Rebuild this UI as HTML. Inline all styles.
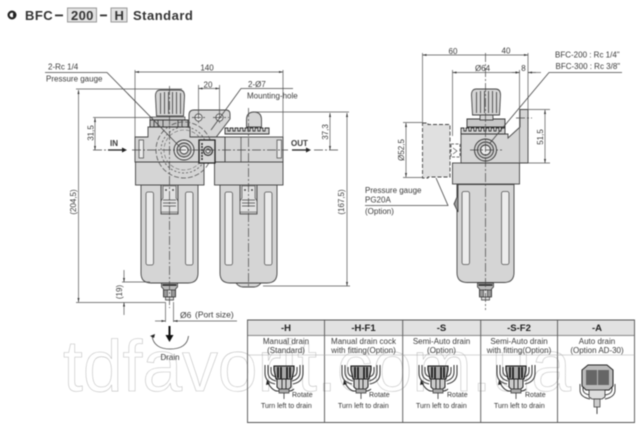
<!DOCTYPE html>
<html><head><meta charset="utf-8"><style>
html,body{margin:0;padding:0;background:#fff}
svg{display:block;filter:blur(.4px)}
text{font-family:"Liberation Sans",sans-serif;fill:#3a3a3a;font-size:8px}
.l{stroke:#444;stroke-width:.8;fill:none}
.d{stroke:#555;stroke-width:.7;fill:none}
.c{stroke:#444;stroke-width:.7;fill:none;stroke-dasharray:9 2 2 2}
.b{fill:#d5d5d5;stroke:#444;stroke-width:.9}
.w{fill:#ececec;stroke:#555;stroke-width:.8}
.h{font-weight:bold;font-size:9.5px;text-anchor:middle;fill:#222}
.m{font-size:8px;text-anchor:middle}
.s{font-size:7px;fill:#333}
</style></head><body>
<svg width="640" height="427" viewBox="0 0 640 427" xmlns="http://www.w3.org/2000/svg">
<defs>
<marker id="a" markerWidth="6" markerHeight="4" refX="6" refY="2" orient="auto-start-reverse"><path d="M0 .5L6 2L0 3.5z" fill="#333"/></marker>
<g id="unitbowl">
<path class="b" d="M0 0H57V88Q57 98 47 98H10Q0 98 0 88Z"/>
<rect class="w" x="5" y="7" width="7.500" height="73" rx="2"/>
<rect class="w" x="44.500" y="7" width="7.500" height="73" rx="2"/>
</g>
<g id="tab">
<path d="M0 0H17V29H0Z" fill="#c8c8c8" stroke="#333" stroke-width=".8"/>
<path d="M2 1H15V13L17 16V27H0V16L2 13Z" fill="#e2e2e2" stroke="#444" stroke-width=".6"/>
<path d="M2 15H15M2 18H15M2 21H15" stroke="#444" stroke-width=".7"/>
<circle cx="5" cy="5" r=".9" fill="#333"/><circle cx="12" cy="5" r=".9" fill="#333"/>
</g>
<g id="knob">
<path class="b" d="M1 26L0 6Q0 0 5 0H24Q29 0 29 6L28 26Z"/>
<path d="M5 3V24M9 2V24M13 2V24M17 2V24M21 2V24M25 3V24" stroke="#555" stroke-width="1"/>
</g>
<g id="teeth">
<path d="M0 7V1H3V4H5V1H8V4H10V1H13V4H15V1H18V4H20V1H23V4H25V1H28V4H30V1H33V4H35V1H38V4H40V1H44V7Z" fill="#d0d0d0" stroke="#333" stroke-width=".9"/>
</g>
<g id="drainport">
<path d="M-8 0H8V4L6 6V13H-6V6L-8 4Z" fill="#bbb" stroke="#444" stroke-width=".9"/>
<path d="M-7 2H7" stroke="#222" stroke-width="1.600"/>
<path d="M-6 7H6V14H-6Z" fill="#999" stroke="#333" stroke-width=".8"/>
<rect x="-2" y="7" width="4" height="7" fill="#ddd" stroke="#333" stroke-width=".6"/>
<path d="M-4 14H4V17H-4Z" fill="#ddd" stroke="#333" stroke-width=".7"/>
</g>
<g id="ico">
<path d="M-19 0V8Q-19 17 -9 19M19 0V8Q19 17 9 19M-16 0V7Q-16 14 -8 16M16 0V7Q16 14 8 16M-13 2V6Q-13 11 -8 12M13 2V6Q13 11 8 12" stroke="#333" stroke-width="1" fill="none"/>
<path d="M-10 1H10V5L8 14H-8L-10 5Z" fill="#aaa" stroke="#111" stroke-width="1.100"/>
<path d="M-6 2V13M-3 2V14M3 2V14M6 2V13" stroke="#111" stroke-width="1.600"/>
<path d="M-7 14H7V22L5 24H-5L-7 22Z" fill="#ccc" stroke="#222" stroke-width="1"/>
<path d="M-2 14V24M2 14V24" stroke="#222" stroke-width=".9"/>
<path d="M-5 24H5V28H-5Z" fill="#aaa" stroke="#333" stroke-width=".7"/>
<path d="M0 28V34" stroke="#333" stroke-width=".8"/>
<path d="M-16 18Q-11 27 -5 26M5 26Q8 26 10 24" stroke="#222" stroke-width=".9" fill="none"/>
<path d="M-17 15L-14 19L-18 20Z" fill="#222"/>
</g>
</defs>

<!-- watermark -->
<text x="63" y="391" textLength="508" lengthAdjust="spacingAndGlyphs" style="font-size:72px;fill:none;stroke:#bdbdbd;stroke-width:.55">tdfavorit.com.ua</text>

<!-- title -->
<circle cx="12" cy="15" r="3.400" fill="none" stroke="#222" stroke-width="2.200"/>
<path d="M13 13L16.500 15L13 17Z" fill="#222"/>
<text x="25" y="20" style="font-size:13px;font-weight:bold;letter-spacing:.45px;fill:#333">BFC</text>
<rect x="55" y="14.500" width="8" height="1.800" fill="#333"/>
<rect x="67.500" y="8" width="29" height="14" fill="#e2e2e2" stroke="#999"/>
<text x="71" y="20" style="font-size:13px;font-weight:bold;letter-spacing:.35px;fill:#333">200</text>
<rect x="100" y="14.500" width="7" height="1.800" fill="#333"/>
<rect x="111" y="8" width="16" height="14" fill="#e2e2e2" stroke="#999"/>
<text x="114.500" y="20" style="font-size:13px;font-weight:bold;fill:#333">H</text>
<text x="133" y="20" style="font-size:13px;font-weight:bold;letter-spacing:.5px;fill:#333">Standard</text>

<!-- left assembly -->
<use href="#unitbowl" x="141" y="185"/>
<use href="#unitbowl" x="220" y="185"/>
<path class="b" d="M236 283H261Q258 287 254 287H243Q239 287 236 283Z"/>
<use href="#tab" x="161" y="185"/>
<use href="#tab" x="240" y="185"/>
<rect class="b" x="135.500" y="162" width="68.500" height="23"/>
<rect class="b" x="214.500" y="162" width="68.500" height="23"/>
<path class="b" d="M189 127V115Q189 110 194 110H226Q230 110 230 114V119L214 140H189Z"/>
<circle cx="198.500" cy="117.500" r="3.600" fill="#eee" stroke="#444" stroke-width=".8"/>
<circle cx="219.500" cy="117.500" r="3.600" fill="#eee" stroke="#444" stroke-width=".8"/>
<path class="b" d="M135 162V137H148V127H190V137H225V162Z"/>
<rect class="b" x="225" y="137" width="58" height="25"/>
<path d="M241 137V162" stroke="#444" stroke-width=".7"/>
<rect x="139" y="140" width="4.500" height="18" class="w"/>
<rect x="277" y="140" width="4.500" height="18" class="w"/>
<use href="#teeth" x="225" y="127"/>
<path class="b" d="M246.500 127V120Q246.500 112 254 112Q261.500 112 261.500 120V127Z"/>
<rect x="150" y="117" width="35" height="3" fill="#ccc" stroke="#444" stroke-width=".7"/>
<path d="M150 120H188V127H150Z" fill="#c0c0c0" stroke="#333" stroke-width=".9"/>
<path d="M154 120V127M158 120V127M163 120V127M178 120V127M182 120V127" stroke="#333" stroke-width=".8"/>
<use href="#knob" x="155.500" y="90"/>
<circle cx="184" cy="150" r="28" fill="none" stroke="#555" stroke-width=".8" stroke-dasharray="5 2"/>
<circle cx="184" cy="150" r="23" fill="none" stroke="#555" stroke-width=".8" stroke-dasharray="2 2"/>
<circle cx="184" cy="150" r="20" fill="none" stroke="#666" stroke-width=".6" stroke-dasharray="4 2"/>
<circle cx="184" cy="150" r="10" fill="#e0e0e0" stroke="#333" stroke-width=".9"/>
<circle cx="184" cy="150" r="7" fill="#c8c8c8" stroke="#333" stroke-width=".9"/>
<circle cx="184" cy="150" r="4" fill="#eee" stroke="#333" stroke-width=".9"/>
<path d="M199 140H215V163H199Z" fill="#d8d8d8" stroke="#222" stroke-width="1.300"/>
<circle cx="208" cy="151" r="4.500" fill="#bbb" stroke="#222" stroke-width="1"/>
<circle cx="208" cy="151" r="2" fill="#eee" stroke="#222" stroke-width=".7"/>
<path d="M202 143V160" stroke="#222" stroke-width="1.400" stroke-dasharray="2 1"/>
<use href="#drainport" x="169.500" y="283"/>

<!-- center lines -->
<path class="c" d="M93 150H107M132 150H288M314 150H340"/>
<path class="c" d="M169.500 86V308"/>
<path class="c" d="M248.500 108V288"/>
<path class="c" d="M198.500 110V125M192 117.500H205M219.500 110V125M213 117.500H229"/>

<!-- left dims -->
<path class="d" d="M135 70V137M283 70V137"/>
<path class="d" d="M135 72H283" marker-start="url(#a)" marker-end="url(#a)"/>
<text class="m" x="207" y="70.500">140</text>
<path class="d" d="M198.500 85V110M219.500 85V110"/>
<path class="d" d="M198.500 88.500H219.500" marker-start="url(#a)" marker-end="url(#a)"/>
<text class="m" x="208" y="87.500">20</text>
<path class="l" d="M45 72.500H107L180 147"/>
<text x="48" y="69.500">2-Rc 1/4</text>
<text x="46" y="81.500">Pressure gauge</text>
<path class="l" d="M293 88.500H241L211 130"/>
<text x="248" y="87">2-Ø7</text>
<text x="247" y="98.500">Mounting-hole</text>
<path class="d" d="M76 89H182M76 302.500H165M93 117.500H153M254 112H349M263 286H350"/>
<path class="d" d="M78.500 90V302" marker-start="url(#a)" marker-end="url(#a)"/>
<text transform="translate(76,202) rotate(-90)" class="m">(204,5)</text>
<path class="d" d="M95 118V150" marker-start="url(#a)" marker-end="url(#a)"/>
<text transform="translate(93.500,133) rotate(-90)" class="m">31,5</text>
<path class="d" d="M330 113V150" marker-start="url(#a)" marker-end="url(#a)"/>
<text transform="translate(328,132) rotate(-90)" class="m">37,3</text>
<path class="d" d="M347 113V286" marker-start="url(#a)" marker-end="url(#a)"/>
<text transform="translate(344,202) rotate(-90)" class="m">(167,5)</text>
<path class="d" d="M122 282H150"/>
<path class="d" d="M124 270V282" marker-end="url(#a)"/>
<path class="d" d="M124 315V302.500" marker-end="url(#a)"/>
<text transform="translate(122,292) rotate(-90)" class="m">(19)</text>
<text x="110" y="146" style="font-weight:bold;font-size:8px">IN</text>
<path d="M108 150H123" stroke="#222" stroke-width="1.300"/><path d="M122 147.500L127 150L122 152.500Z" fill="#222"/>
<text x="291" y="146" style="font-weight:bold;font-size:8px">OUT</text>
<path d="M292 150H307" stroke="#222" stroke-width="1.300"/><path d="M306 147.500L311 150L306 152.500Z" fill="#222"/>
<path class="d" d="M165.500 302V322M173.500 302V322"/>
<path class="d" d="M155 321H165.500" marker-end="url(#a)"/>
<path class="d" d="M237 321H173.500" marker-end="url(#a)"/>
<text x="180" y="318" style="font-size:8.500px">Ø6</text>
<text x="195" y="317.500" style="font-size:8.500px">(Port size)</text>
<path d="M169.500 326V337" stroke="#111" stroke-width="2"/>
<path d="M165.500 335H173.500L169.500 342Z" fill="#111"/>
<path class="l" d="M152 336Q154 349 170 349Q187 349 188.500 336"/>
<path d="M150 336L155 334L154 338Z" fill="#222"/>
<text class="m" x="170" y="360" style="font-size:8px">Drain</text>

<!-- right assembly -->
<use href="#unitbowl" x="457" y="184.500"/>
<path d="M457 184V197L454 204L458 212V184Z" fill="#999" stroke="#333" stroke-width=".8"/>
<rect class="b" x="452.500" y="163" width="67" height="21"/>
<path class="b" d="M461 163V134H508V138L520 127V109.500H528V163Z"/>
<use href="#teeth" x="461" y="127"/>
<path d="M467 119H505V127H467Z" fill="#c8c8c8" stroke="#333" stroke-width=".9"/>
<path class="b" d="M480 120V117Q480 112 486 112Q493 112 493 117V120Z"/>
<use href="#knob" x="471.500" y="89"/>
<circle cx="485.500" cy="150" r="11" fill="#d0d0d0" stroke="#333" stroke-width=".9"/>
<circle cx="485.500" cy="150" r="8" fill="#c8c8c8" stroke="#333" stroke-width=".9"/>
<circle cx="485.500" cy="150" r="5" fill="#eee" stroke="#333" stroke-width=".9"/>
<path d="M422.500 123H428V124.500H450V177H428V178H422.500Z" fill="#e0e0e0" stroke="#444" stroke-width=".9" stroke-dasharray="4 2"/>
<path d="M451 144H460V157H451Z" fill="#fff" stroke="#444" stroke-width=".8" stroke-dasharray="3 1.500"/>
<path d="M453 148L457 151L453 154" stroke="#444" stroke-width=".6" fill="none"/>
<use href="#drainport" x="485.500" y="283"/>
<path class="c" d="M485.500 53V310"/>
<path class="c" d="M470 150H502M516 118H532"/>

<!-- right dims -->
<path class="d" d="M422.500 53V122M528 53V110M452.500 70V136M519.500 70V163"/>
<path class="d" d="M422.500 55H485.500" marker-start="url(#a)"/>
<path class="d" d="M485.500 55H528" marker-end="url(#a)"/>
<text class="m" x="453" y="54">60</text>
<text class="m" x="506" y="53.500">40</text>
<path class="d" d="M452.500 72.500H519.500" marker-start="url(#a)" marker-end="url(#a)"/>
<text class="m" x="482.500" y="71">Ø64</text>
<path class="d" d="M528 72.500H541"/>
<path class="d" d="M512 72.500H519.500" marker-end="url(#a)"/>
<path class="d" d="M536 72.500H528" marker-end="url(#a)"/>
<text class="m" x="523.500" y="71">8</text>
<path class="l" d="M622 72.500H549L490 143"/>
<text x="555" y="57.500">BFC-200 : Rc 1/4"</text>
<text x="555.500" y="69">BFC-300 : Rc 3/8"</text>
<path class="d" d="M528 109.500H550M528 163H550"/>
<path class="d" d="M545 110V163" marker-start="url(#a)" marker-end="url(#a)"/>
<text transform="translate(543,137) rotate(-90)" class="m">51,5</text>
<path class="d" d="M403 122.500H423M403 177.500H423"/>
<path class="d" d="M406 123V177" marker-start="url(#a)" marker-end="url(#a)"/>
<text transform="translate(404,150) rotate(-90)" class="m">Ø52,5</text>
<path class="l" d="M365 205.500H448L436 178"/>
<text x="365" y="193">Pressure gauge</text>
<text x="365" y="202.500">PG20A</text>
<text x="365" y="214">(Option)</text>

<!-- table -->
<rect x="247.500" y="320" width="387" height="15.500" fill="#e2e2e2"/>
<path d="M247.500 320H634.500V422.500H247.500Z" fill="none" stroke="#555" stroke-width=".9"/>
<path d="M324.500 320V422.500M402.700 320V422.500M480.700 320V422.500M557.500 320V422.500" stroke="#555" stroke-width=".9"/>
<path d="M247.500 335.500H634.500" stroke="#666" stroke-width=".7"/>
<path d="M247.500 355H634.500" stroke="#aaa" stroke-width=".5"/>
<text class="h" x="286" y="331">-H</text>
<text class="h" x="363.500" y="331">-H-F1</text>
<text class="h" x="441.500" y="331">-S</text>
<text class="h" x="519" y="331">-S-F2</text>
<text class="h" x="597" y="331">-A</text>
<text class="m" x="286" y="344">Manual drain</text><text class="m" x="286" y="353">(Standard)</text>
<text class="m" x="363.500" y="344">Manual drain cock</text><text class="m" x="363.500" y="353">with fitting(Option)</text>
<text class="m" x="441.500" y="344">Semi-Auto drain</text><text class="m" x="441.500" y="353">(Option)</text>
<text class="m" x="519" y="344">Semi-Auto drain</text><text class="m" x="519" y="353">with fitting(Option)</text>
<text class="m" x="597" y="344">Auto drain</text><text class="m" x="597" y="353">(Option AD-30)</text>
<use href="#ico" x="284" y="365"/>
<use href="#ico" x="361" y="365"/>
<use href="#ico" x="438" y="365"/>
<use href="#ico" x="516" y="365"/>
<text class="s" x="292" y="397">Rotate</text><text class="s" x="369" y="397">Rotate</text><text class="s" x="447" y="397">Rotate</text><text class="s" x="525" y="397">Rotate</text>
<text class="s" x="261" y="408">Turn left to drain</text><text class="s" x="338" y="408">Turn left to drain</text><text class="s" x="416" y="408">Turn left to drain</text><text class="s" x="494" y="408">Turn left to drain</text>
<!-- auto drain -->
<path d="M580 384V390Q580 397 590 399M615 384V390Q615 397 605 399M583 384V389Q583 394 590 395M612 384V389Q612 394 605 395" stroke="#333" stroke-width=".9" fill="none"/>
<path d="M588 365H607L613 370V386L609 390H586L582 386V370Z" fill="#bbb" stroke="#222" stroke-width="1"/>
<rect x="586" y="370" width="23" height="15" fill="#666"/>
<path d="M597.500 370V385" stroke="#ccc" stroke-width=".8"/>
<path d="M589 390H605V397L602 399H592L589 397Z" fill="#ddd" stroke="#333" stroke-width=".8"/>
<rect x="594" y="399" width="6" height="8" fill="#ccc" stroke="#333" stroke-width=".7"/>
<path d="M597 407V414" stroke="#333" stroke-width=".9"/>
</svg>
</body></html>
